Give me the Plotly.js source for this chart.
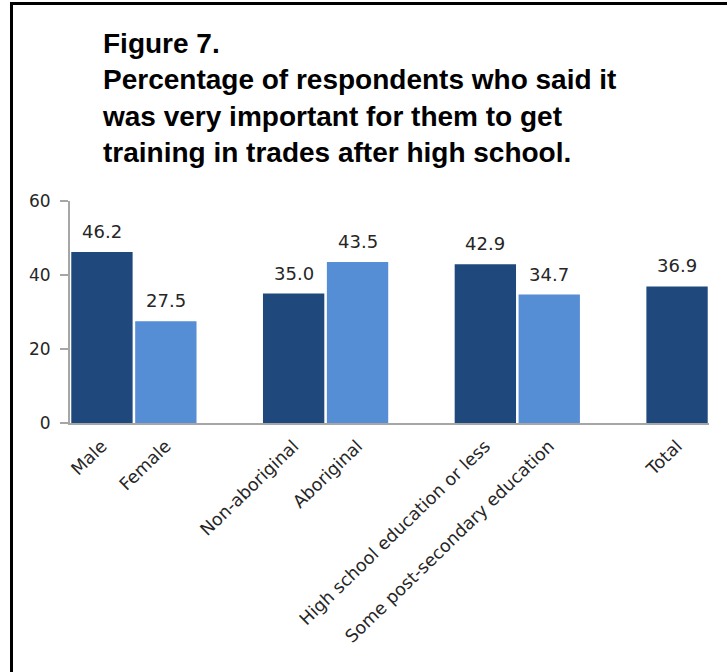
<!DOCTYPE html>
<html>
<head>
<meta charset="utf-8">
<script src="https://cdn.plot.ly/plotly-3.0.1.min.js"></script>
<style>
  html, body { margin: 0; padding: 0; background: #fff; }
  #wrap { position: relative; width: 727px; height: 672px; }
  #chart { position: absolute; left: 0; top: 0; width: 727px; height: 672px; }
  #frame { position: absolute; left: 10px; top: 2px; width: 717px; height: 670px;
           border-left: 3px solid #000; border-top: 3px solid #000; pointer-events: none; box-sizing: border-box; }
</style>
</head>
<body>
<div id="wrap">
  <div id="chart"></div>
  <div id="frame"></div>
</div>
<script>
// Category order (blank slots separate the groups)
const categoryOrder = ["Male", "Female", " ", "Non-aboriginal", "Aboriginal", "  ",
  "High school education or less", "Some post-secondary education", "   ", "Total"];

// Dark series (first bar of each group + Total)
const darkCategories = ["Male", "Non-aboriginal", "High school education or less", "Total"];
const darkValues = [46.2, 35.0, 42.9, 36.9];

// Light series (second bar of each group)
const lightCategories = ["Female", "Aboriginal", "Some post-secondary education"];
const lightValues = [27.5, 43.5, 34.7];

const yTickValues = [0, 20, 40, 60];

const darkColor = "#1F497D";
const lightColor = "#558ED5";

const traces = [
  { type: "bar", x: darkCategories, y: darkValues, marker: { color: darkColor, line: { width: 0 } },
    hoverinfo: "x+y", showlegend: false },
  { type: "bar", x: lightCategories, y: lightValues, marker: { color: lightColor, line: { width: 0 } },
    hoverinfo: "x+y", showlegend: false }
];

function labelAnnotations(cats, vals) {
  return cats.map((c, i) => ({
    x: c, y: vals[i], xref: "x", yref: "y",
    text: vals[i].toFixed(1), showarrow: false,
    yanchor: "bottom", yshift: 8,
    font: { family: "DejaVu Sans, sans-serif", size: 18, color: "#262626" }
  }));
}

const layout = {
  width: 727, height: 672,
  margin: { l: 70, r: 18, t: 201, b: 249 },
  paper_bgcolor: "#ffffff", plot_bgcolor: "#ffffff",
  barmode: "overlay",
  bargap: 0.04,
  title: {
    text: "Figure 7.<br>Percentage of respondents who said it<br>was very important for them to get<br>training in trades after high school.",
    x: 103 / 727, xanchor: "left", xref: "container",
    y: 1 - 53 / 672, yanchor: "top", yref: "container",
    font: { family: "Liberation Sans Narrow, Liberation Sans, Arial, sans-serif", size: 28, color: "#000", weight: "bold" }
  },
  xaxis: {
    type: "category",
    categoryorder: "array",
    categoryarray: categoryOrder,
    tickangle: -44,
    showline: true, linecolor: "#A6A6A6", linewidth: 2,
    ticks: "", showgrid: false, zeroline: false,
    tickfont: { family: "DejaVu Sans, sans-serif", size: 17.5, color: "#262626" },
    ticklabelstandoff: 4,
    fixedrange: true
  },
  yaxis: {
    range: [0, 60],
    tickvals: yTickValues,
    ticktext: yTickValues.map(String),
    showline: true, linecolor: "#A6A6A6", linewidth: 2,
    ticks: "outside", ticklen: 8, tickcolor: "#A6A6A6", tickwidth: 2,
    showgrid: false, zeroline: false,
    tickfont: { family: "DejaVu Sans, sans-serif", size: 17, color: "#262626" },
    ticklabelstandoff: 6,
    fixedrange: true
  },
  annotations: labelAnnotations(darkCategories, darkValues).concat(labelAnnotations(lightCategories, lightValues))
};

Plotly.newPlot("chart", traces, layout, { displayModeBar: false, staticPlot: true });
</script>
</body>
</html>
